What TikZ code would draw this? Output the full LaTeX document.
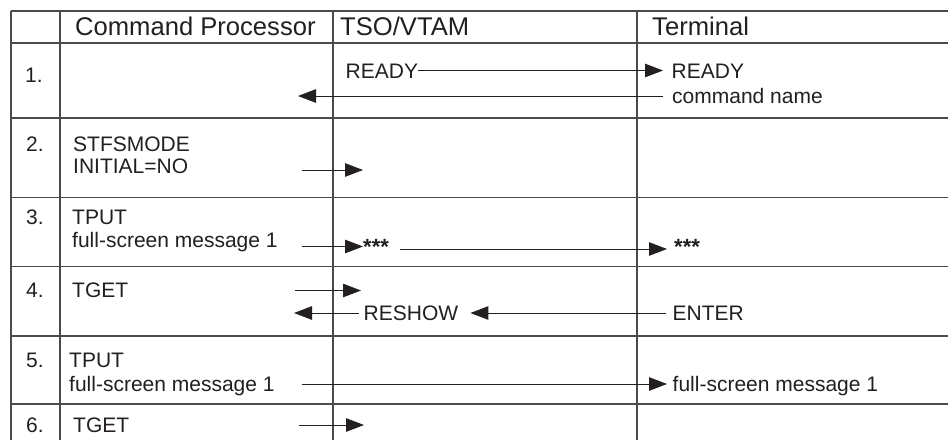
\documentclass[tikz,border=0pt]{standalone}
\usepackage{fontspec}
\setmainfont{Liberation Sans}
\usetikzlibrary{arrows.meta}
\definecolor{ink}{HTML}{231F20}
\definecolor{rulec}{HTML}{4A4A4A}
\begin{document}
\begin{tikzpicture}[x=1pt,y=-1pt,
  gridline/.style={draw=rulec,line width=1.2pt},
  hdr/.style={anchor=west,inner sep=0pt,text=ink,font=\fontsize{25.6}{28}\selectfont,text height=18.3pt,text depth=0pt},
  txt/.style={anchor=west,inner sep=0pt,text=ink,font=\fontsize{21}{24}\selectfont,text height=15pt,text depth=0pt},
  stars/.style={txt,font=\bfseries\fontsize{22}{24}\selectfont},
  msg/.style={draw=ink,line width=1pt,-{Triangle[length=18pt,width=13.5pt]}}]
\useasboundingbox (0,0) rectangle (948,440);
% table rules
\foreach \yy in {11,43,118,197.5,266.5,336,404}{\draw[gridline] (11,\yy) -- (948,\yy);}
\foreach \xx in {11,60,333,637}{\draw[gridline] (\xx,11) -- (\xx,440);}
% header
\node[hdr] (hcp) at (75,26) {Command Processor};
\node[hdr] (hts) at (340,26) {TSO/VTAM};
\node[hdr] (hte) at (652,26) {Terminal};
% row numbers
\node[txt] (n1) at (25,75) {1.};
\node[txt] (n2) at (26,143.5) {2.};
\node[txt] (n3) at (26,217) {3.};
\node[txt] (n4) at (26,290) {4.};
\node[txt] (n5) at (26,360) {5.};
\node[txt] (n6) at (26,425) {6.};
% row 1
\node[txt] (rdy1) at (345.5,70.5) {READY};
\node[txt] (rdy2) at (671.5,70.5) {READY};
\node[txt] (cmd) at (672,96) {command name};
\coordinate (c1tip) at (298,96);
\draw[msg,shorten >=8.5pt] (rdy1.east) -- (rdy2.west);
\draw[msg,shorten <=9pt] (cmd.west) -- (c1tip);
% row 2
\node[txt] (stf) at (73,143.5) {STFSMODE};
\node[txt] (ini) at (73,165.5) {INITIAL=NO};
\coordinate (a2s) at (302,170);
\coordinate (a2e) at (363,170);
\draw[msg] (a2s) -- (a2e);
% row 3
\node[txt] (tput3) at (72,217) {TPUT};
\node[txt] (fs3) at (72,239.5) {full-screen message 1};
\coordinate (a3s) at (302,246.5);
\node[stars] (st1) at (363,247) {***};
\coordinate (a3b) at (400,249);
\coordinate (a3e) at (667,249);
\node[stars] (st2) at (674,247) {***};
\draw[msg] (a3s) -- (a3s -| st1.west);
\draw[msg] (a3b) -- (a3e);
% row 4
\node[txt] (tget4) at (72,290) {TGET};
\coordinate (a4s) at (295,290.5);
\coordinate (a4e) at (361,290.5);
\draw[msg] (a4s) -- (a4e);
\node[txt] (resh) at (363.5,313) {RESHOW};
\node[txt] (ent) at (672.5,313) {ENTER};
\coordinate (a4t) at (294,313);
\draw[msg,shorten <=4.5pt] (resh.west) -- (a4t);
\draw[msg,shorten <=6.5pt,shorten >=12pt] (ent.west) -- (resh.east);
% row 5
\node[txt] (tput5) at (69,360) {TPUT};
\node[txt] (fs5) at (69,383.5) {full-screen message 1};
\node[txt] (fs5r) at (672.5,383.5) {full-screen message 1};
\coordinate (a5s) at (302,384);
\draw[msg,shorten >=5.5pt] (a5s) -- (a5s -| fs5r.west);
% row 6
\node[txt] (tget6) at (73,425) {TGET};
\coordinate (a6s) at (299,425);
\coordinate (a6e) at (364,425);
\draw[msg] (a6s) -- (a6e);
\end{tikzpicture}
\end{document}
